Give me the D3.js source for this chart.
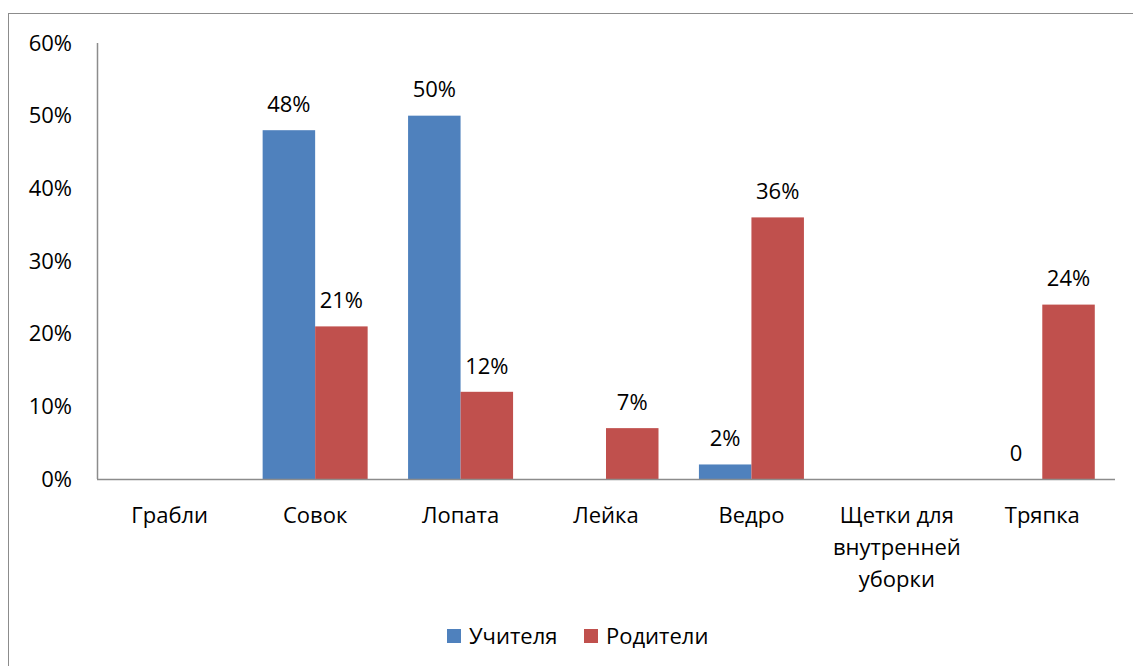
<!DOCTYPE html>
<html>
<head>
<meta charset="utf-8">
<script src="https://cdn.jsdelivr.net/npm/d3@7"></script>
<style>
  body { margin: 0; background: #fff; }
  text { font-family: "Open Sans", "Noto Sans", sans-serif; fill: #000; }
</style>
</head>
<body>
<svg width="1133" height="666"></svg>
<script>
var categories = ["Грабли", "Совок", "Лопата", "Лейка", "Ведро", "Щетки для внутренней уборки", "Тряпка"];
var seriesNames = ["Учителя", "Родители"];
var teachers = [null, 0.48, 0.50, null, 0.02, null, 0];
var parents = [null, 0.21, 0.12, 0.07, 0.36, null, 0.24];
var yTicks = [0, 0.1, 0.2, 0.3, 0.4, 0.5, 0.6];
var colors = ["#4F81BD", "#C0504D"];

var svg = d3.select("svg"),
    plotLeft = 97, plotRight = 1115, plotTop = 43, plotBottom = 479,
    fontSize = "22px";

// chart frame
svg.append("rect")
    .attr("x", 8.5).attr("y", 13.5)
    .attr("width", 1140).attr("height", 670)
    .attr("fill", "none").attr("stroke", "#8c8c8c");

var x = d3.scaleBand().domain(categories).range([plotLeft, plotRight]);
var x1 = d3.scaleBand().domain(seriesNames).range([0, x.bandwidth()]).paddingOuter(0.385);
var y = d3.scaleLinear().domain([0, 0.6]).range([plotBottom, plotTop]);

// y tick labels
svg.selectAll(".ytick")
    .data(yTicks)
    .enter().append("text")
    .attr("x", 72)
    .attr("y", function(d) { return y(d); })
    .attr("dy", "0.35em")
    .attr("text-anchor", "end")
    .style("font-size", fontSize)
    .text(d3.format(".0%"));

var rows = categories.map(function(c, i) {
    return {cat: c, vals: [teachers[i], parents[i]]};
});

var groups = svg.selectAll(".grp")
    .data(rows)
    .enter().append("g")
    .attr("transform", function(d) { return "translate(" + x(d.cat) + ",0)"; });

function cells(d) {
    return d.vals.map(function(v, j) { return {s: seriesNames[j], v: v, j: j}; })
        .filter(function(c) { return c.v !== null; });
}

groups.selectAll("rect")
    .data(cells)
    .enter().append("rect")
    .attr("x", function(d) { return x1(d.s); })
    .attr("width", x1.bandwidth())
    .attr("y", function(d) { return y(d.v); })
    .attr("height", function(d) { return y(0) - y(d.v); })
    .attr("fill", function(d) { return colors[d.j]; });

groups.selectAll(".lbl")
    .data(cells)
    .enter().append("text")
    .attr("x", function(d) { return x1(d.s) + x1.bandwidth() / 2; })
    .attr("y", function(d) { return y(d.v) - 26; })
    .attr("dy", "0.35em")
    .attr("text-anchor", "middle")
    .style("font-size", fontSize)
    .text(function(d) { return d.v === 0 ? "0" : d3.format(".0%")(d.v); });

// axes lines
svg.append("line")
    .attr("x1", plotLeft + 0.5).attr("x2", plotLeft + 0.5)
    .attr("y1", plotTop).attr("y2", plotBottom)
    .attr("stroke", "#8c8c8c").attr("stroke-width", 1.5);
svg.append("line")
    .attr("x1", plotLeft).attr("x2", plotRight)
    .attr("y1", plotBottom + 0.5).attr("y2", plotBottom + 0.5)
    .attr("stroke", "#8c8c8c").attr("stroke-width", 1.5);

// category labels, wrapped
var catLabels = svg.selectAll(".cat")
    .data(categories)
    .enter().append("text")
    .attr("text-anchor", "middle")
    .style("font-size", fontSize);

catLabels.each(function(d) {
    var el = d3.select(this), cx = x(d) + x.bandwidth() / 2;
    var words = d.split(" "), lines = [], line = [];
    words.forEach(function(w) {
        var test = line.concat([w]).join(" ");
        if (line.length && test.length > 10) { lines.push(line.join(" ")); line = [w]; }
        else line.push(w);
    });
    lines.push(line.join(" "));
    lines.forEach(function(l, i) {
        el.append("tspan").attr("x", cx).attr("y", 515 + i * 32).attr("dy", "0.35em").text(l);
    });
});

// legend
var legend = svg.append("g");
var legX = [447, 584];
seriesNames.forEach(function(s, i) {
    legend.append("rect")
        .attr("x", legX[i]).attr("y", 629)
        .attr("width", 14).attr("height", 14)
        .attr("fill", colors[i]);
    legend.append("text")
        .attr("x", legX[i] + 22).attr("y", 636)
        .attr("dy", "0.35em")
        .style("font-size", fontSize)
        .text(s);
});
</script>
</body>
</html>
